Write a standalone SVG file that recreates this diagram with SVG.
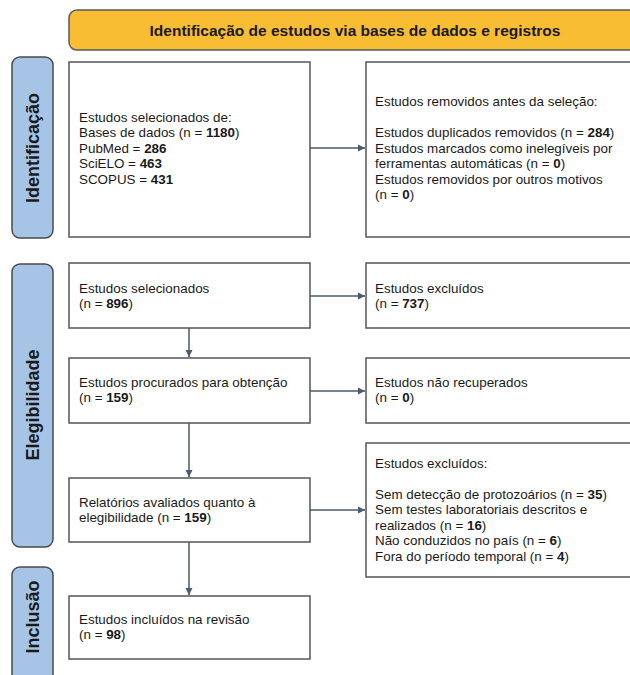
<svg xmlns="http://www.w3.org/2000/svg" width="630" height="675" viewBox="0 0 630 675">
<defs>
<marker id="arr" markerWidth="8" markerHeight="8" refX="7" refY="4" orient="auto" markerUnits="userSpaceOnUse">
<path d="M0,0.5 L7,4 L0,7.5 Z" fill="#4b5a6c"/>
</marker>
<style>
.box{fill:#fff;stroke:#555;stroke-width:1.5}
.hdr{fill:#f8bd32;stroke:#5a5a5a;stroke-width:1.5}
.lbl{fill:#a6c4e5;stroke:#4a4a4a;stroke-width:1.5}
.t{font-family:"Liberation Sans",Arial,sans-serif;font-size:13.4px;fill:#1a1a1a}
.b{font-weight:bold}
.ht{font-family:"Liberation Sans",Arial,sans-serif;font-size:15.5px;font-weight:bold;fill:#1a1a1a}
.lt{font-family:"Liberation Sans",Arial,sans-serif;font-size:18px;font-weight:bold;fill:#1a1a1a}
.c{fill:none;stroke:#4b5a6c;stroke-width:1.5;marker-end:url(#arr)}
</style>
</defs>
<rect width="630" height="675" fill="#fff"/>

<g id="header">
<rect class="hdr" x="69" y="10" width="590" height="40" rx="8"/>
<text class="ht" x="355" y="35.5" text-anchor="middle">Identificação de estudos via bases de dados e registros</text>
</g>

<g id="lbl-identificacao">
<rect class="lbl" x="12" y="57" width="41" height="181" rx="8"/>
<text class="lt" transform="translate(39,148) rotate(-90)" text-anchor="middle">Identificação</text>
</g>
<g id="lbl-elegibilidade">
<rect class="lbl" x="12" y="264" width="41" height="283" rx="8"/>
<text class="lt" transform="translate(39,405) rotate(-90)" text-anchor="middle">Elegibilidade</text>
</g>
<g id="lbl-inclusao">
<rect class="lbl" x="12" y="567" width="41" height="130" rx="8"/>
<text class="lt" transform="translate(39,617) rotate(-90)" text-anchor="middle">Inclusão</text>
</g>

<g id="n-selecionados-de">
<rect class="box" x="69" y="62" width="241" height="175"/>
<text class="t" x="79" y="121.5">Estudos selecionados de:</text>
<text class="t" x="79" y="137">Bases de dados (n = <tspan class="b">1180</tspan>)</text>
<text class="t" x="79" y="152.5">PubMed = <tspan class="b">286</tspan></text>
<text class="t" x="79" y="168">SciELO = <tspan class="b">463</tspan></text>
<text class="t" x="79" y="183.5">SCOPUS = <tspan class="b">431</tspan></text>
</g>

<g id="n-removidos">
<rect class="box" x="366" y="62" width="280" height="175"/>
<text class="t" x="375" y="106">Estudos removidos antes da seleção:</text>
<text class="t" x="375" y="137">Estudos duplicados removidos (n = <tspan class="b">284</tspan>)</text>
<text class="t" x="375" y="152.5">Estudos marcados como inelegíveis por</text>
<text class="t" x="375" y="168">ferramentas automáticas (n = <tspan class="b">0</tspan>)</text>
<text class="t" x="375" y="183.5">Estudos removidos por outros motivos</text>
<text class="t" x="375" y="199">(n = <tspan class="b">0</tspan>)</text>
</g>

<g id="n-selecionados">
<rect class="box" x="69" y="263" width="241" height="65"/>
<text class="t" x="79" y="292.5">Estudos selecionados</text>
<text class="t" x="79" y="308">(n = <tspan class="b">896</tspan>)</text>
</g>

<g id="n-excluidos">
<rect class="box" x="366" y="263" width="280" height="65"/>
<text class="t" x="375" y="292.5">Estudos excluídos</text>
<text class="t" x="375" y="308">(n = <tspan class="b">737</tspan>)</text>
</g>

<g id="n-procurados">
<rect class="box" x="69" y="358" width="241" height="65"/>
<text class="t" x="79" y="386.5">Estudos procurados para obtenção</text>
<text class="t" x="79" y="402">(n = <tspan class="b">159</tspan>)</text>
</g>

<g id="n-nao-recuperados">
<rect class="box" x="366" y="358" width="280" height="65"/>
<text class="t" x="375" y="386.5">Estudos não recuperados</text>
<text class="t" x="375" y="402">(n = <tspan class="b">0</tspan>)</text>
</g>

<g id="n-relatorios">
<rect class="box" x="69" y="478" width="241" height="64"/>
<text class="t" x="79" y="506.5">Relatórios avaliados quanto à</text>
<text class="t" x="79" y="522">elegibilidade (n = <tspan class="b">159</tspan>)</text>
</g>

<g id="n-excluidos-motivos">
<rect class="box" x="366" y="443" width="280" height="134"/>
<text class="t" x="375" y="467.5">Estudos excluídos:</text>
<text class="t" x="375" y="498.5">Sem detecção de protozoários (n = <tspan class="b">35</tspan>)</text>
<text class="t" x="375" y="514">Sem testes laboratoriais descritos e</text>
<text class="t" x="375" y="529.5">realizados (n = <tspan class="b">16</tspan>)</text>
<text class="t" x="375" y="545">Não conduzidos no país (n = <tspan class="b">6</tspan>)</text>
<text class="t" x="375" y="560.5">Fora do período temporal (n = <tspan class="b">4</tspan>)</text>
</g>

<g id="n-incluidos">
<rect class="box" x="69" y="596" width="241" height="63"/>
<text class="t" x="79" y="623.5">Estudos incluídos na revisão</text>
<text class="t" x="79" y="639">(n = <tspan class="b">98</tspan>)</text>
</g>

<g id="connectors">
<line class="c" x1="310" y1="148" x2="365" y2="148"/>
<line class="c" x1="310" y1="296" x2="365" y2="296"/>
<line class="c" x1="310" y1="391" x2="365" y2="391"/>
<line class="c" x1="310" y1="510" x2="365" y2="510"/>
<line class="c" x1="189" y1="328" x2="189" y2="357"/>
<line class="c" x1="189" y1="423" x2="189" y2="477"/>
<line class="c" x1="189" y1="542" x2="189" y2="595"/>
</g>
</svg>
